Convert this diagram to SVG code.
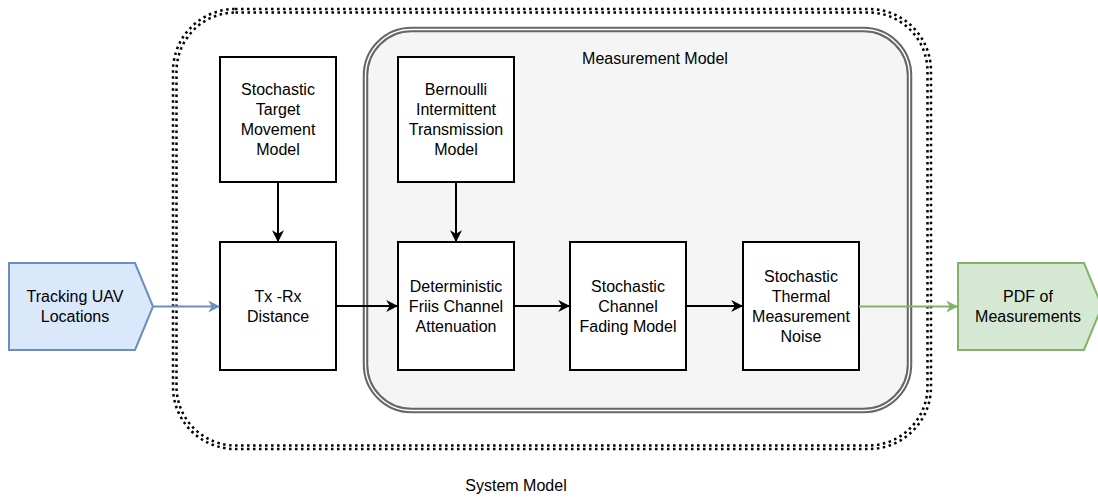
<svg xmlns="http://www.w3.org/2000/svg" width="1098" height="498" viewBox="0 0 1098 498">
<defs>
<style>
text{font-family:"Liberation Sans",Arial,sans-serif;font-size:16px;fill:#000;text-anchor:middle}
.box{fill:#fff;stroke:#000;stroke-width:2}
.c{fill:none;stroke:#000;stroke-width:2}
</style>
<marker id="ak" viewBox="0 0 10 10" refX="9" refY="5" markerWidth="12" markerHeight="12" orient="auto" markerUnits="userSpaceOnUse"><path d="M0,0 L10,5 L0,10 L3,5 Z" fill="#000"/></marker>
<marker id="ab" viewBox="0 0 10 10" refX="9" refY="5" markerWidth="12" markerHeight="12" orient="auto" markerUnits="userSpaceOnUse"><path d="M0,0 L10,5 L0,10 L3,5 Z" fill="#6c8ebf"/></marker>
<marker id="ag" viewBox="0 0 10 10" refX="9" refY="5" markerWidth="12" markerHeight="12" orient="auto" markerUnits="userSpaceOnUse"><path d="M0,0 L10,5 L0,10 L3,5 Z" fill="#82b366"/></marker>
</defs>
<g id="system-model">
<rect x="173" y="9" width="758" height="440" rx="62" fill="none" stroke="#000" stroke-width="2.5" stroke-dasharray="2.5 3.5"/>
<rect x="176.5" y="12.5" width="751" height="433" rx="59" fill="none" stroke="#000" stroke-width="2.5" stroke-dasharray="2.5 3.5"/>
<text x="516" y="491">System Model</text>
</g>
<g id="measurement-model">
<rect x="365.5" y="29.5" width="544" height="381" rx="46" fill="#f5f5f5" stroke="#666" stroke-width="5.5"/>
<rect x="365.5" y="29.5" width="544" height="381" rx="46" fill="none" stroke="#fff" stroke-width="1.4"/>
<text x="655" y="64">Measurement Model</text>
</g>
<g id="tracking">
<path d="M9,263 L135,263 L153,306.5 L135,350 L9,350 Z" fill="#dae8fc" stroke="#6c8ebf" stroke-width="2"/>
<text x="75" y="302">Tracking UAV</text>
<text x="75" y="322">Locations</text>
</g>
<g id="target-movement">
<rect class="box" x="220" y="57" width="116" height="125"/>
<text x="278" y="95">Stochastic</text>
<text x="278" y="115">Target</text>
<text x="278" y="135">Movement</text>
<text x="278" y="155">Model</text>
</g>
<g id="distance">
<rect class="box" x="220" y="242" width="116" height="128"/>
<text x="278" y="302">Tx -Rx</text>
<text x="278" y="322">Distance</text>
</g>
<g id="bernoulli">
<rect class="box" x="398" y="57" width="116" height="125"/>
<text x="456" y="95">Bernoulli</text>
<text x="456" y="115">Intermittent</text>
<text x="456" y="135">Transmission</text>
<text x="456" y="155">Model</text>
</g>
<g id="friis">
<rect class="box" x="398" y="242" width="116" height="128"/>
<text x="456" y="292">Deterministic</text>
<text x="456" y="312">Friis Channel</text>
<text x="456" y="332">Attenuation</text>
</g>
<g id="fading">
<rect class="box" x="570" y="242" width="116" height="128"/>
<text x="628" y="292">Stochastic</text>
<text x="628" y="312">Channel</text>
<text x="628" y="332">Fading Model</text>
</g>
<g id="thermal">
<rect class="box" x="743" y="242" width="116" height="128"/>
<text x="801" y="282">Stochastic</text>
<text x="801" y="302">Thermal</text>
<text x="801" y="322">Measurement</text>
<text x="801" y="342">Noise</text>
</g>
<g id="pdf">
<path d="M958,263 L1084,263 L1102,306.5 L1084,350 L958,350 Z" fill="#d5e8d4" stroke="#82b366" stroke-width="2"/>
<text x="1028" y="302">PDF of</text>
<text x="1028" y="322">Measurements</text>
</g>
<g id="connectors">
<path d="M153,306.5 L219,306.5" fill="none" stroke="#6c8ebf" stroke-width="2" marker-end="url(#ab)"/>
<path class="c" d="M278,182 L278,241" marker-end="url(#ak)"/>
<path class="c" d="M336,306 L397,306" marker-end="url(#ak)"/>
<path class="c" d="M456,182 L456,241" marker-end="url(#ak)"/>
<path class="c" d="M514,306 L569,306" marker-end="url(#ak)"/>
<path class="c" d="M686,306 L742,306" marker-end="url(#ak)"/>
<path d="M859,306.5 L957,306.5" fill="none" stroke="#82b366" stroke-width="2" marker-end="url(#ag)"/>
</g>
</svg>
